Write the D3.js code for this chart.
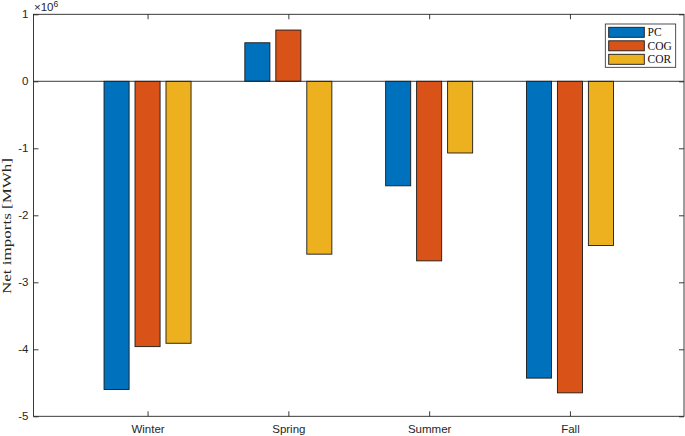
<!DOCTYPE html>
<html><head><meta charset="utf-8">
<script src="https://cdn.jsdelivr.net/npm/d3@7"></script>
<style>body{margin:0;background:#fff}svg{display:block}</style>
</head><body>
<script>
const categories = ["Winter", "Spring", "Summer", "Fall"];
const seriesNames = ["PC", "COG", "COR"];
const PC  = [-4.60e6, 0.575e6, -1.56e6, -4.43e6];
const COG = [-3.96e6, 0.765e6, -2.68e6, -4.65e6];
const COR = [-3.91e6, -2.58e6, -1.07e6, -2.45e6];
const yTicks = [1, 0, -1, -2, -3, -4, -5];
const colors = ["#0072BD", "#D95319", "#EDB120"];
const series = [PC, COG, COR];

const W = 685, H = 436;
const L = 33.5, R = 684, T = 14.3, B = 416.3;
const svg = d3.select("body").append("svg").attr("width", W).attr("height", H);

const x = d3.scaleLinear().domain([0.19, 4.81]).range([L, R]);
const y = d3.scaleLinear().domain([-5e6, 1e6]).range([B, T]);
const offs = [-0.22, 0, 0.22];
const bw = 0.178;

// bars
series.forEach((s, si) => {
  svg.append("g").selectAll("rect").data(s).join("rect")
    .attr("x", (d, i) => x(i + 1 + offs[si] - bw / 2))
    .attr("width", x(bw) - x(0))
    .attr("y", d => y(Math.max(0, d)))
    .attr("height", d => Math.abs(y(d) - y(0)))
    .attr("fill", colors[si])
    .attr("stroke", "#1a1a1a").attr("stroke-width", 0.9);
});

// baseline
svg.append("line").attr("x1", L).attr("x2", R).attr("y1", y(0)).attr("y2", y(0))
  .attr("stroke", "#262626").attr("stroke-width", 0.9);

// axes box
const ax = svg.append("g").attr("stroke", "#262626").attr("fill", "none");
ax.append("rect").attr("x", L).attr("y", T).attr("width", R - L).attr("height", B - T).attr("stroke-width", 0.9);

const tickFont = "'Liberation Sans', Arial, sans-serif";
const yAxisL = d3.axisLeft(y).tickValues(yTicks.map(v => v * 1e6)).tickSize(-5)
  .tickFormat(d => String(d / 1e6)).tickPadding(10);
const gL = svg.append("g").attr("transform", `translate(${L},0)`).call(yAxisL);
const yAxisR = d3.axisRight(y).tickValues(yTicks.map(v => v * 1e6)).tickSize(-5).tickFormat("");
const gR = svg.append("g").attr("transform", `translate(${R},0)`).call(yAxisR);
const xAxisB = d3.axisBottom(x).tickValues([1, 2, 3, 4]).tickSize(-5)
  .tickFormat(d => categories[d - 1]).tickPadding(10);
const gB = svg.append("g").attr("transform", `translate(0,${B})`).call(xAxisB);
const xAxisT = d3.axisTop(x).tickValues([1, 2, 3, 4]).tickSize(-5).tickFormat("");
const gT = svg.append("g").attr("transform", `translate(0,${T})`).call(xAxisT);
[gL, gR, gB, gT].forEach(g => {
  g.select(".domain").remove();
  g.selectAll(".tick line").attr("stroke", "#262626").attr("stroke-width", 0.9);
  g.selectAll("text").attr("fill", "#262626").style("font-family", tickFont).style("font-size", "11.5px");
});
gL.selectAll("text").attr("x", -5);
gB.selectAll("text").attr("y", 9);

// exponent
const ex = svg.append("text").attr("x", 34).attr("y", 11).attr("fill", "#262626")
  .style("font-family", tickFont).style("font-size", "11.5px");
ex.append("tspan").text("\u00d710");
ex.append("tspan").attr("dy", -4).style("font-size", "8.5px").text("6");

// y label
svg.append("text").attr("transform", `translate(11,226) rotate(-90)`)
  .attr("text-anchor", "middle").attr("fill", "#262626")
  .attr("textLength", 136).attr("lengthAdjust", "spacingAndGlyphs")
  .style("font-family", "'Liberation Serif', 'Times New Roman', serif").style("font-size", "13px")
  .text("Net imports [MWh]");

// legend
const lg = svg.append("g");
lg.append("rect").attr("x", 605.3).attr("y", 24).attr("width", 70.4).attr("height", 43.3)
  .attr("fill", "#fff").attr("stroke", "#262626").attr("stroke-width", 0.8);
seriesNames.forEach((n, i) => {
  const cy = 32.3 + i * 13.5;
  lg.append("rect").attr("x", 608.7).attr("y", cy - 5).attr("width", 35.6).attr("height", 10)
    .attr("fill", colors[i]).attr("stroke", "#1a1a1a").attr("stroke-width", 0.9);
  lg.append("text").attr("x", 647.5).attr("y", cy + 4).attr("fill", "#111")
    .style("font-family", "'Liberation Serif', 'Times New Roman', serif").style("font-size", "11.5px").text(n);
});
</script>
</body></html>
